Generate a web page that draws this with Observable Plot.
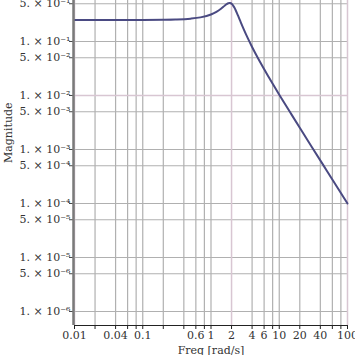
<!DOCTYPE html>
<html>
<head>
<meta charset="utf-8">
<script src="https://cdn.jsdelivr.net/npm/d3@7"></script>
<script src="https://cdn.jsdelivr.net/npm/@observablehq/plot@0.6"></script>
<style>
  html, body { margin: 0; padding: 0; background: #fff; }
  #chart svg { display: block; }
</style>
</head>
<body>
<div id="chart"></div>
<script>
// Frequency (rad/s) and magnitude
const freq = [0.01, 0.03, 0.1, 0.2, 0.3, 0.5, 0.7, 1, 1.2, 1.4, 1.6, 1.7, 1.8, 1.85, 1.9, 1.95, 2, 2.05, 2.1, 2.2, 2.3, 2.4, 2.5, 2.7, 3, 3.5, 4, 5, 7, 10, 15, 20, 30, 50, 70, 100];
const mag = [0.25, 0.2500, 0.2505, 0.2522, 0.2550, 0.2643, 0.2794, 0.3162, 0.3537, 0.4042, 0.4646, 0.4925, 0.5118, 0.5160, 0.5156, 0.5102, 0.5, 0.4854, 0.4674, 0.4246, 0.3792, 0.3360, 0.2973, 0.2350, 0.1715, 0.1116, 0.0791, 0.0463, 0.02196, 0.01036, 0.004515, 0.002522, 0.0011155, 0.0004006, 0.0002042, 0.00010004];

const yTicks = [0.5, 0.1, 0.05, 0.01, 0.005, 0.001, 0.0005, 0.0001, 0.00005, 0.00001, 0.000005, 0.000001];
const yTickLabels = ["5. × 10⁻¹", "1. × 10⁻¹", "5. × 10⁻²", "1. × 10⁻²", "5. × 10⁻³", "1. × 10⁻³", "5. × 10⁻⁴", "1. × 10⁻⁴", "5. × 10⁻⁵", "1. × 10⁻⁵", "5. × 10⁻⁶", "1. × 10⁻⁶"];

const xTicks = [0.01, 0.02, 0.04, 0.06, 0.08, 0.1, 0.2, 0.4, 0.6, 0.8, 1, 2, 4, 6, 8, 10, 20, 40, 60, 80, 100];
const xTickLabels = ["0.01", "", "0.04", "", "", "0.1", "", "", "0.6", "", "1", "2", "4", "6", "", "10", "20", "40", "", "", "100"];

const pinkX = [0.01, 2, 100];
const pinkY = [0.01];

const yDomain = [5.5e-7, 0.574];
const xDomain = [0.01, 100];

const data = freq.map((f, i) => ({f, m: mag[i]}));
const grayX = xTicks.filter(d => !pinkX.includes(d));
const grayY = yTicks.filter(d => !pinkY.includes(d));
const xLab = xTicks.map((d, i) => ({v: d, t: xTickLabels[i]})).filter(d => d.t !== "");
const yLab = yTicks.map((d, i) => ({v: d, t: yTickLabels[i]}));

const font = "DejaVu Serif";

const chart = Plot.plot({
  width: 355,
  height: 355,
  marginLeft: 74,
  marginRight: 8,
  marginTop: 0,
  marginBottom: 30,
  style: {fontFamily: font, fontSize: "11px", background: "#fff", color: "#333"},
  x: {type: "log", domain: xDomain, axis: null},
  y: {type: "log", domain: yDomain, axis: null},
  marks: [
    Plot.ruleX(grayX, {stroke: "#b0b0b0", strokeWidth: 1.2}),
    Plot.ruleY(grayY, {stroke: "#b0b0b0", strokeWidth: 1.2}),
    Plot.ruleX(pinkX, {stroke: "#d8c6d2", strokeWidth: 1.5}),
    Plot.ruleY(pinkY, {stroke: "#d8c6d2", strokeWidth: 1.5}),
    Plot.line(data, {x: "f", y: "m", stroke: "#4a4a82", strokeWidth: 2, curve: "monotone-x"}),
    // tick marks
    Plot.axisY(yTicks, {tickSize: 5, tickFormat: () => "", stroke: "#444", label: null}),
    Plot.axisX(xTicks, {tickSize: 4, tickFormat: () => "", stroke: "#222", label: null}),
    Plot.ruleX([xDomain[0]], {stroke: "#7a7a7a", strokeWidth: 2.5, dx: -1}),
    Plot.ruleY([yDomain[0]], {stroke: "#222", strokeWidth: 1}),
    // tick labels
    Plot.text(yLab, {x: xDomain[0], y: "v", text: "t", textAnchor: "end", dx: -4, fill: "#333", fontFamily: font, fontSize: 11}),
    Plot.text(xLab, {x: "v", y: yDomain[0], text: "t", lineAnchor: "top", dy: 6, fill: "#333", fontFamily: font, fontSize: 11}),
    // axis titles
    Plot.text(["Freq [rad/s]"], {frameAnchor: "bottom", lineAnchor: "middle", dy: 25, fill: "#333", fontFamily: font, fontSize: 11}),
    Plot.text(["Magnitude"], {frameAnchor: "left", dx: -66, rotate: -90, lineAnchor: "middle", fill: "#333", fontFamily: font, fontSize: 11})
  ]
});
document.getElementById("chart").appendChild(chart);
</script>
</body>
</html>
